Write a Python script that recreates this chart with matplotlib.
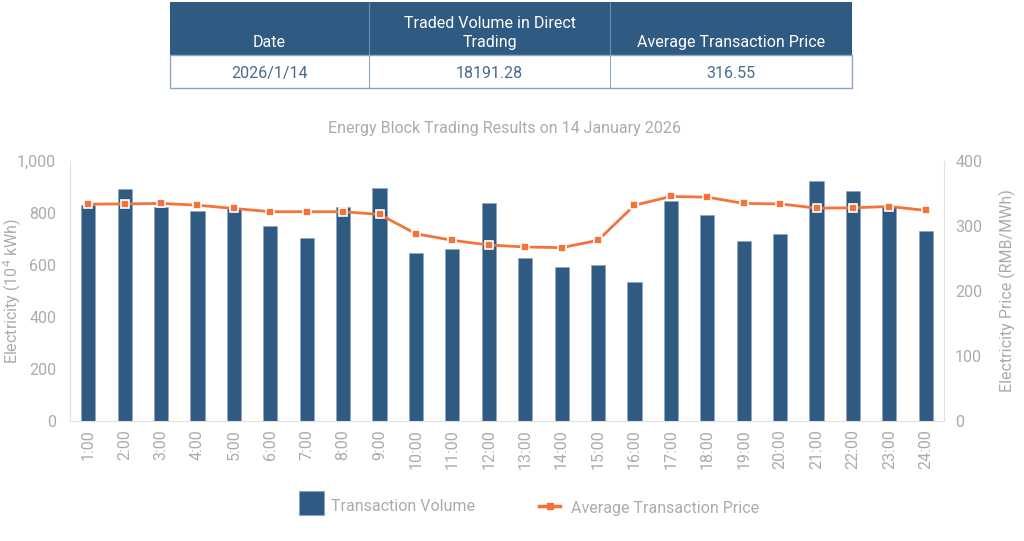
import matplotlib.pyplot as plt
from matplotlib.patches import Rectangle
from matplotlib.lines import Line2D

plt.rcParams['font.family'] = ['Roboto', 'DejaVu Sans']

hours = [f"{h}:00" for h in range(1, 25)]
volume = [830, 891, 823, 807, 818, 751, 703, 823, 898, 645, 663, 838,
          627, 593, 599, 534, 847, 791, 691, 719, 923, 884, 824, 732]
price = [333.6, 334, 334.7, 332, 327, 322, 322, 322, 317.8, 288, 278, 270.8,
         267.7, 266.7, 278, 332, 345.4, 344.4, 334.7, 334, 327.5, 328, 330, 324]

table_head = ["Date", "Traded Volume in Direct\nTrading", "Average Transaction Price"]
table_row = ["2026/1/14", "18191.28", "316.55"]

blue = '#2F5A82'
orange = '#F4733A'
grey = '#ABABAB'

W, H = 1024, 541
fig = plt.figure(figsize=(W / 100, H / 100), dpi=100)

# summary table at the top, in pixel coordinates
tab = fig.add_axes([0, 0, 1, 1])
tab.set_xlim(0, W)
tab.set_ylim(H, 0)
tab.axis('off')
cols = [170, 369, 610, 852]
tab.add_patch(Rectangle((cols[0], 2), cols[-1] - cols[0], 53, color=blue, lw=0))
tab.add_patch(Rectangle((cols[0], 55), cols[-1] - cols[0], 33, fc='white', ec='#8CA6C0', lw=1))
for i in range(3):
    cx = (cols[i] + cols[i + 1]) / 2
    tab.text(cx, 47, table_head[i], color='white', fontsize=11.5, ha='center', va='baseline',
             linespacing=1.3)
    tab.text(cx, 78, table_row[i], color='#4A6A8C', fontsize=11.5, ha='center', va='baseline')
for x in cols[1:-1]:
    tab.plot([x, x], [2, 55], color='#6F8FB0', lw=0.8)
    tab.plot([x, x], [55, 88], color='#8CA6C0', lw=0.8)
tab.text(W / 2 - 8, 133, "Energy Block Trading Results on 14 January 2026", color=grey,
         fontsize=11.5, ha='center', va='baseline')

ax = fig.add_axes([70 / W, 1 - 421 / H, (944 - 70) / W, 260 / H])
x = list(range(len(hours)))
ax.bar(x, volume, width=0.39, color=blue, edgecolor='#8CA6C0', linewidth=0.5, zorder=2)
ax.set_xlim(-0.5, len(hours) - 0.5)
ax.set_ylim(0, 1000)
ax.set_yticks(range(0, 1001, 200))
ax.set_yticklabels([f"{v:,}" for v in range(0, 1001, 200)])
ax.set_xticks(x)
ax.set_xticklabels(hours, rotation=90)
ax.set_ylabel("Electricity (10$^4$ kWh)", color=grey, fontsize=11.5)
ax.yaxis.set_label_coords(-0.053, 0.5)
ax.tick_params(colors=grey, labelsize=11.5, length=0)
ax.tick_params(axis='x', pad=6)
ax.tick_params(axis='y', pad=10)
for s in ['top', 'right']:
    ax.spines[s].set_visible(False)
ax.spines['left'].set_color('#E0E0E0')
ax.spines['bottom'].set_color('#E0E0E0')

ax2 = ax.twinx()
ax2.plot(x, price, color=orange, lw=2, marker='s', markersize=6,
         markerfacecolor=orange, markeredgecolor='white', markeredgewidth=1.2, zorder=3)
ax2.set_ylim(0, 400)
ax2.set_yticks(range(0, 401, 100))
ax2.set_ylabel("Electricity Price (RMB/MWh)", color=grey, fontsize=11.5)
ax2.yaxis.set_label_coords(1.063, 0.5)
ax2.tick_params(colors=grey, labelsize=11.5, length=0, pad=8)
for s in ['top', 'left', 'bottom']:
    ax2.spines[s].set_visible(False)
ax2.spines['right'].set_color('#E0E0E0')

# legend below the plot
tab.add_patch(Rectangle((299, 491), 25, 24, fc=blue, ec='#8CA6C0', lw=0.8))
tab.text(331, 511, "Transaction Volume", color=grey, fontsize=11.5, va='baseline')
tab.add_line(Line2D([539, 560], [506, 506], color=orange, lw=2.5))
tab.plot([549.5], [506], marker='s', markersize=5, color=orange)
tab.text(571, 513, "Average Transaction Price", color=grey, fontsize=11.5, va='baseline')

fig.savefig('out.png', dpi=100)
